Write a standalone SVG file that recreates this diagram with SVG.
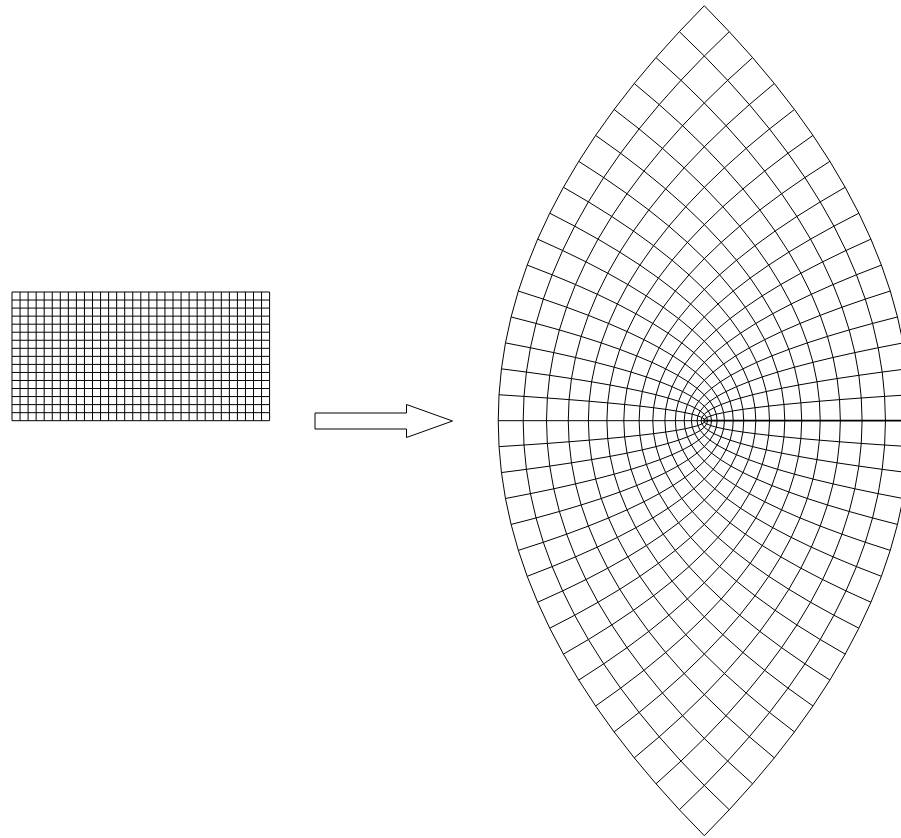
<svg xmlns="http://www.w3.org/2000/svg" width="901" height="838" viewBox="0 0 901 838">
<style>
.g{fill:none;stroke:#000;stroke-width:1}
.ar{fill:#fff;stroke:#000;stroke-width:1}
.cut{fill:none;stroke:#000;stroke-width:1.8}
</style>
<rect width="901" height="838" fill="#fff"/>
<g id="rect-grid" class="g">
<path d="M12,292V420.7M20.05,292V420.7M28.1,292V420.7M36.15,292V420.7M44.2,292V420.7M52.25,292V420.7M60.3,292V420.7M68.35,292V420.7M76.4,292V420.7M84.45,292V420.7M92.5,292V420.7M100.55,292V420.7M108.6,292V420.7M116.65,292V420.7M124.7,292V420.7M132.75,292V420.7M140.8,292V420.7M148.85,292V420.7M156.9,292V420.7M164.95,292V420.7M173,292V420.7M181.05,292V420.7M189.1,292V420.7M197.15,292V420.7M205.2,292V420.7M213.25,292V420.7M221.3,292V420.7M229.35,292V420.7M237.4,292V420.7M245.45,292V420.7M253.5,292V420.7M261.55,292V420.7M269.6,292V420.7"/>
<path d="M12,292H269.6M12,300.04H269.6M12,308.09H269.6M12,316.13H269.6M12,324.18H269.6M12,332.22H269.6M12,340.26H269.6M12,348.31H269.6M12,356.35H269.6M12,364.4H269.6M12,372.44H269.6M12,380.48H269.6M12,388.53H269.6M12,396.57H269.6M12,404.62H269.6M12,412.66H269.6M12,420.7H269.6"/>
</g>
<g id="arrow">
<polygon class="ar" points="315,413 406.5,413 406.5,404.5 452.5,421 406.5,437.5 406.5,429 315,429"/>
</g>
<g id="mapped-grid" class="g">
<path d="M498.22,420.7H704.3"/>
<path class="cut" d="M704.3,420.7H910.38"/>
<path d="M909.58,446.64Q497.42,420.7 909.58,394.76M907.16,472.57Q495,420.7 907.16,368.83M903.14,498.51Q490.98,420.7 903.14,342.89M897.5,524.44Q485.34,420.7 897.5,316.96M890.26,550.38Q478.1,420.7 890.26,291.02M881.4,576.32Q469.24,420.7 881.4,265.08M870.94,602.25Q458.78,420.7 870.94,239.15M858.86,628.19Q446.7,420.7 858.86,213.21M845.18,654.12Q433.02,420.7 845.18,187.28M829.88,680.06Q417.72,420.7 829.88,161.34M812.98,706Q400.82,420.7 812.98,135.4M794.46,731.93Q382.3,420.7 794.46,109.47M774.34,757.87Q362.18,420.7 774.34,83.53M752.6,783.8Q340.44,420.7 752.6,57.6M729.26,809.74Q317.1,420.7 729.26,31.66M704.3,835.68Q292.14,420.7 704.3,5.72"/>
<path d="M499.03,446.64Q911.19,420.7 499.03,394.76M501.44,472.57Q913.6,420.7 501.44,368.83M505.47,498.51Q917.63,420.7 505.47,342.89M511.1,524.44Q923.26,420.7 511.1,316.96M518.35,550.38Q930.51,420.7 518.35,291.02M527.2,576.32Q939.36,420.7 527.2,265.08M537.67,602.25Q949.83,420.7 537.67,239.15M549.74,628.19Q961.9,420.7 549.74,213.21M563.43,654.12Q975.59,420.7 563.43,187.28M578.72,680.06Q990.88,420.7 578.72,161.34M595.63,706Q1007.79,420.7 595.63,135.4M614.14,731.93Q1026.3,420.7 614.14,109.47M634.27,757.87Q1046.43,420.7 634.27,83.53M656,783.8Q1068.16,420.7 656,57.6M679.35,809.74Q1091.51,420.7 679.35,31.66M704.3,835.68Q1116.46,420.7 704.3,5.72"/>
</g>
</svg>
